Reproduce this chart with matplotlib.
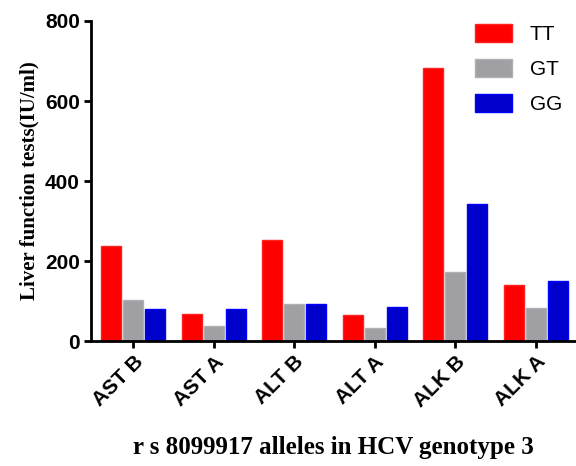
import numpy as np
import matplotlib.pyplot as plt

categories = ['AST B', 'AST A', 'ALT B', 'ALT A', 'ALK B', 'ALK A']
tt = [237, 67, 252, 65, 682, 140]
gt = [102, 37, 92, 32, 172, 82]
gg = [80, 80, 92, 85, 342, 150]

fig = plt.figure(figsize=(5.76, 4.66), dpi=100)
ax = fig.add_axes([0.158, 0.268, 0.842, 0.687])

x = np.arange(len(categories))
w = 0.25
off = 0.275
ax.bar(x - off, tt, w, color='#ff0000', edgecolor='#ff2020', linewidth=1, label='TT')
ax.bar(x, gt, w, color='#a0a0a4', edgecolor='#b0b0b4', linewidth=1, label='GT')
ax.bar(x + off, gg, w, color='#0000cc', edgecolor='#0000ff', linewidth=1, label='GG')

ax.set_xlim(-0.525, 5.5)
ax.set_ylim(0, 800)
ax.set_yticks([0, 200, 400, 600, 800])
ax.set_xticks(x)
ax.set_xticklabels(categories, rotation=45, ha='right', rotation_mode='anchor',
                   fontsize=15, fontweight='bold', family='Liberation Sans')
for lab in ax.get_yticklabels():
    lab.set_fontsize(15)
    lab.set_fontweight('bold')
    lab.set_family('Liberation Sans')

for s in ['top', 'right']:
    ax.spines[s].set_visible(False)
for s in ['left', 'bottom']:
    ax.spines[s].set_linewidth(2)
ax.tick_params(width=2, length=5, pad=3)

ax.set_ylabel('Liver function tests(IU/ml)', family='Liberation Serif',
              fontweight='bold', fontsize=15, labelpad=4)
ax.set_xlabel('r s 8099917 alleles in HCV genotype 3', family='Liberation Serif',
              fontweight='bold', fontsize=18, labelpad=18)

leg = ax.legend(loc='upper right', frameon=False,
                handlelength=1.8, handleheight=1.0, labelspacing=0.7,
                handletextpad=0.85,
                prop={'family': 'Liberation Sans', 'size': 15},
                bbox_to_anchor=(1.01, 1.05))

fig.savefig('out.png', dpi=100)
